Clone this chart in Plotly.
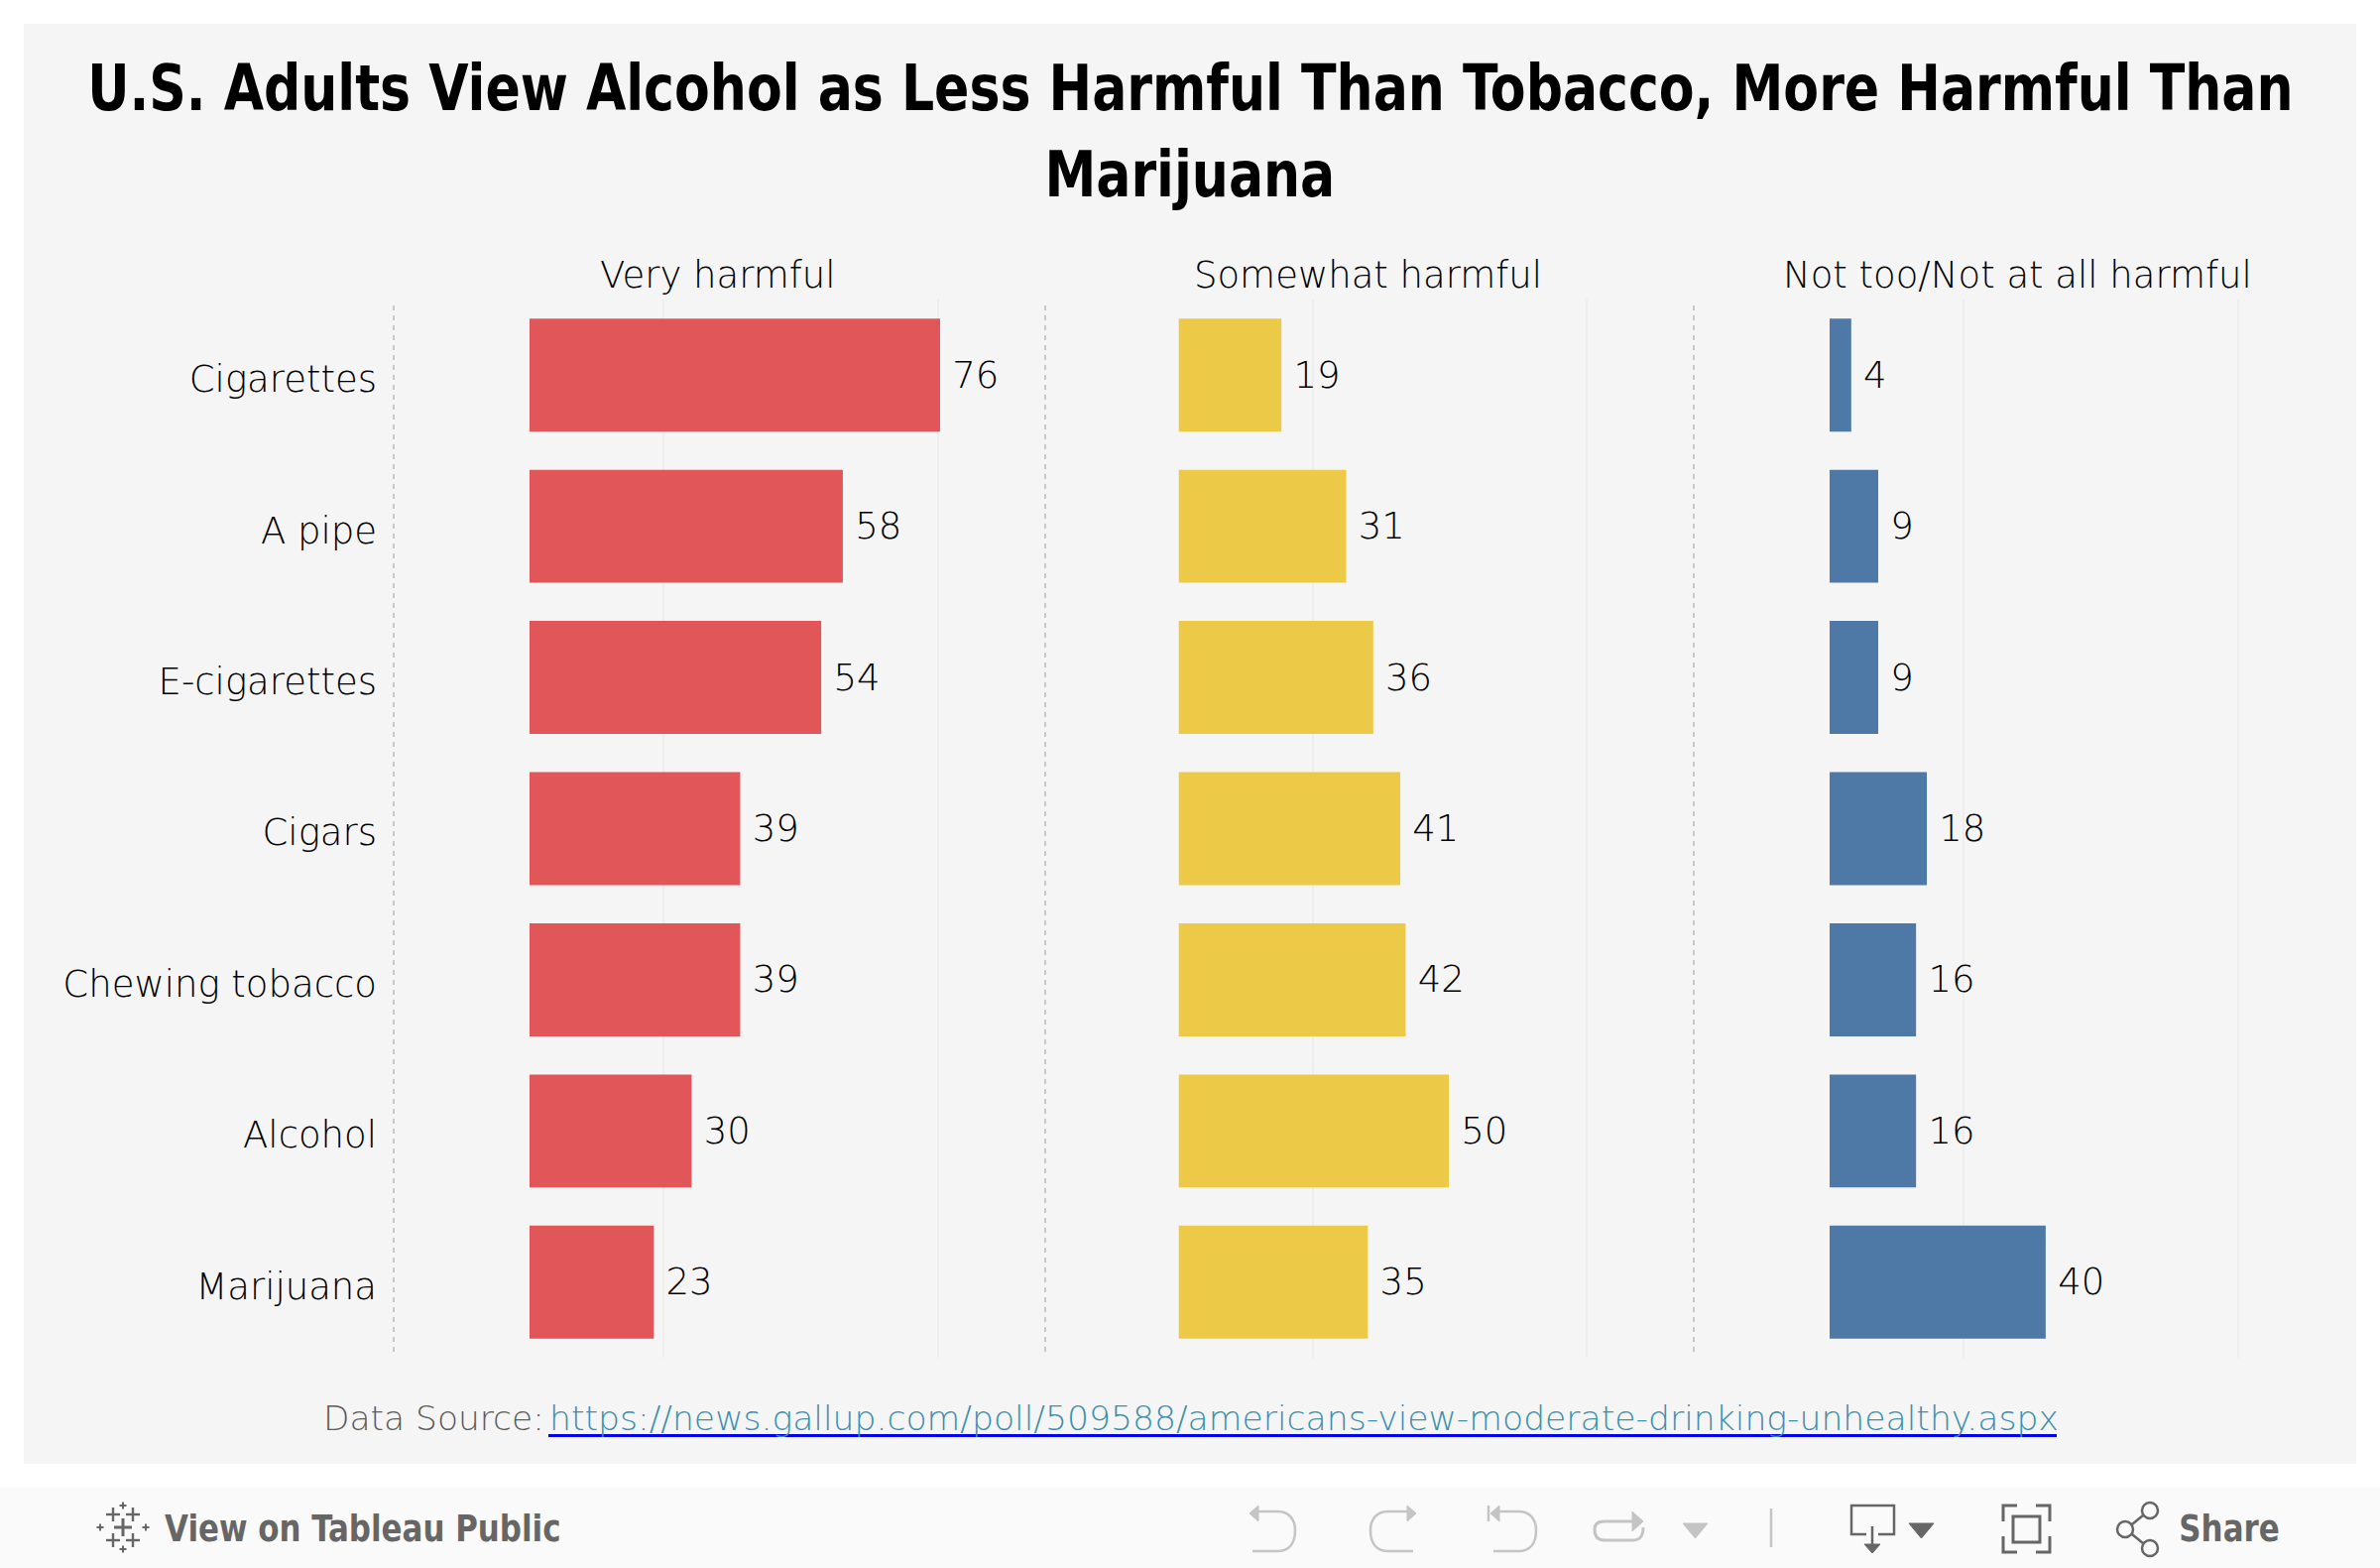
import plotly.graph_objects as go

categories = ["Cigarettes", "A pipe", "E-cigarettes", "Cigars", "Chewing tobacco", "Alcohol", "Marijuana"]
very_harmful = [76, 58, 54, 39, 39, 30, 23]
somewhat_harmful = [19, 31, 36, 41, 42, 50, 35]
not_harmful = [4, 9, 9, 18, 16, 16, 40]
panel_titles = ["Very harmful", "Somewhat harmful", "Not too/Not at all harmful"]
colors = ["#e15759", "#edc948", "#4e79a7"]
grid_vals = [24.8, 75.6]

W, H = 2400, 1581
FONT = "DejaVu Sans"
FONT_C = "DejaVu Sans Condensed"
LIGHT = 200
px = lambda x: x / W
py = lambda y: 1 - y / H

PANES = [(397, 1054, 534), (1054, 1708, 1188.7), (1708, 2362, 1845)]
SCALE = 5.447
TOP, BOT = 302, 1369

fig = go.Figure()
for i, (vals, col, (l, r, z)) in enumerate(zip([very_harmful, somewhat_harmful, not_harmful], colors, PANES)):
    n = "" if i == 0 else str(i + 1)
    fig.add_trace(go.Bar(
        y=categories, x=vals, orientation="h", width=0.7475,
        marker=dict(color=col, line=dict(width=0)),
        text=["\u2005" + str(v) for v in vals], textposition="outside",
        textfont=dict(family=FONT, size=37, color="#000000", weight=LIGHT), cliponaxis=False,
        hoverinfo="skip", showlegend=False, xaxis="x" + n, yaxis="y" + n))
    fig.update_layout(**{
        "xaxis" + n: dict(domain=[px(l), px(r)], range=[(l - z) / SCALE, (r - z) / SCALE],
                          tickvals=grid_vals, showticklabels=False, ticks="", zeroline=False,
                          showgrid=True, gridcolor="#eeeeee", gridwidth=2, showline=False, fixedrange=True),
        "yaxis" + n: dict(domain=[py(BOT), py(TOP)], range=[6.5, -0.5], type="category",
                          categoryorder="array", categoryarray=categories,
                          showticklabels=(i == 0), ticks="", showgrid=False, zeroline=False, showline=False,
                          ticklabelstandoff=16, ticklabelshift=-4,
                          tickfont=dict(family=FONT, size=37, color="#000000", weight=LIGHT),
                          fixedrange=True, automargin=False),
    })

shapes, annos = [], []

def rect(x0, y0, x1, y1, fill):
    shapes.append(dict(type="rect", xref="paper", yref="paper", x0=px(x0), x1=px(x1), y0=py(y0), y1=py(y1),
                       fillcolor=fill, line=dict(width=0), layer="below"))

def line(x0, y0, x1, y1, color, width=2, dash="solid", layer="above"):
    shapes.append(dict(type="line", xref="paper", yref="paper", x0=px(x0), x1=px(x1), y0=py(y0), y1=py(y1),
                       line=dict(color=color, width=width, dash=dash), layer=layer))

def path(pts, color, width=2.5, fill=None):
    d = ""
    for cmd, *c in pts:
        d += cmd + " ".join(f"{px(c[j]):.5f} {py(c[j+1]):.5f}" for j in range(0, len(c), 2)) + " "
    shapes.append(dict(type="path", xref="paper", yref="paper", path=d.strip(),
                       line=dict(color=color, width=width), fillcolor=fill or "rgba(0,0,0,0)", layer="above"))

def text(x, y, s, size, color="#000000", anchor="center", weight=LIGHT, family=FONT):
    annos.append(dict(xref="paper", yref="paper", x=px(x), y=py(y), text=s, showarrow=False, xanchor=anchor,
                      yanchor="middle", font=dict(family=family, size=size, color=color, weight=weight)))

rect(24, 24, 2376, 1476, "#f5f5f5")
rect(0, 1500, 2400, 1581, "#fafafa")

for x in (397, 1054, 1708):
    line(x, 308, x, 1365, "#c8c8c8", 2, "5px,5px", "below")

text(1200, 89, "U.S. Adults View Alcohol as Less Harmful Than Tobacco, More Harmful Than", 64, "#000000", weight=700, family=FONT_C)
text(1200, 176, "Marijuana", 64, "#000000", weight=700, family=FONT_C)
for t, cx in zip(panel_titles, (724, 1379, 2034)):
    text(cx, 278, t, 37)

# source line
line(553, 1447.5, 2074, 1447.5, "#0000ee", 3)
text(324, 1430, "Data Source:", 34.4, "#5c5c5c", "left")
annos.append(dict(xref="paper", yref="paper", x=px(552), y=py(1430), xanchor="left", yanchor="middle", showarrow=False,
                  text='<a href="https://news.gallup.com/poll/509588/americans-view-moderate-drinking-unhealthy.aspx" '
                       'style="color:#3d8fb0">https://news.gallup.com/poll/509588/americans-view-moderate-drinking-unhealthy.aspx</a>',
                  font=dict(family=FONT, size=34.6, color="#3d8fb0", weight=LIGHT)))

# toolbar
GR, LG = "#666666", "#c4c4c4"
def cross(cx, cy, a, t=1.5):
    line(cx - a, cy, cx + a, cy, GR, 2 * t)
    line(cx, cy - a, cx, cy + a, GR, 2 * t)
cross(124, 1540, 9, 1.5)
for dx, dy in ((-10, -13), (10, -13), (-10, 13), (10, 13)):
    cross(124 + dx, 1540 + dy, 7, 1.2)
for dx, dy in ((0, -22), (0, 22), (-23, 0), (23, 0)):
    cross(124 + dx, 1540 + dy, 3.5, 1)

text(366, 1541, "View on Tableau Public", 38, GR, "center", 700, FONT_C)
text(2248, 1541, "Share", 38, GR, "center", 700, FONT_C)

def curve_arrow(sign, x0):
    f = lambda d: x0 + sign * d
    path([("M", f(28), 1524), ("C", f(40), 1524, f(46), 1532, f(46), 1543), ("C", f(46), 1556, f(40), 1564, f(28), 1564),
          ("L", f(3), 1564)], LG)
    path([("M", f(0), 1526), ("L", f(9), 1518), ("L", f(9), 1534), ("Z",)], LG, 1, LG)
    line(f(9), 1524, f(28), 1524, LG, 2.5)

curve_arrow(1, 1260)
curve_arrow(-1, 1428)
curve_arrow(1, 1503)
line(1501, 1518, 1501, 1534, LG, 2.5)
path([("M", 1646, 1534), ("L", 1618, 1534), ("C", 1610, 1534, 1608, 1538, 1608, 1542), ("C", 1608, 1549, 1611, 1553, 1618, 1553),
      ("L", 1646, 1553), ("C", 1654, 1553, 1657, 1549, 1657, 1540)], LG, 3)
path([("M", 1657, 1534), ("L", 1646, 1524), ("L", 1646, 1544), ("Z",)], LG, 1, LG)
path([("M", 1697, 1536), ("L", 1722, 1536), ("L", 1709.5, 1551), ("Z",)], LG, 1, LG)
line(1786, 1521, 1786, 1560, LG, 2.5)

path([("M", 1882, 1547), ("L", 1867, 1547), ("L", 1867, 1518), ("L", 1910, 1518), ("L", 1910, 1547), ("L", 1894, 1547)], GR, 2.5)
line(1888, 1539, 1888, 1558, GR, 2.5)
path([("M", 1880, 1557), ("L", 1896, 1557), ("L", 1888, 1566), ("Z",)], GR, 1, GR)
path([("M", 1925, 1536), ("L", 1950, 1536), ("L", 1937.5, 1551), ("Z",)], GR, 1, GR)

for (ax, ay, bx, by, cx, cy) in ((2034, 1518, 2020, 1518, 2020, 1534), (2053, 1518, 2067, 1518, 2067, 1534),
                                 (2034, 1565, 2020, 1565, 2020, 1549), (2053, 1565, 2067, 1565, 2067, 1549)):
    path([("M", ax, ay), ("L", bx, by), ("L", cx, cy)], GR, 3)
path([("M", 2030, 1529), ("L", 2057, 1529), ("L", 2057, 1555), ("L", 2030, 1555), ("Z",)], GR, 3)

for cx, cy in ((2168, 1523), (2143, 1542), (2168, 1561)):
    shapes.append(dict(type="circle", xref="paper", yref="paper", x0=px(cx - 8), x1=px(cx + 8), y0=py(cy + 8), y1=py(cy - 8),
                       line=dict(color=GR, width=2.5), fillcolor="rgba(0,0,0,0)"))
line(2150, 1537, 2161, 1528, GR, 2.5)
line(2150, 1547, 2161, 1556, GR, 2.5)

fig.update_layout(width=W, height=H, autosize=False, margin=dict(l=0, r=0, t=0, b=0), paper_bgcolor="#ffffff",
                  plot_bgcolor="rgba(0,0,0,0)", shapes=shapes, annotations=annos,
                  font=dict(family=FONT), uniformtext=dict(mode=False))

# The page's default margin is removed; bold texts are narrowed to the reference's width.
POST = """
document.body.style.margin='0';
document.documentElement.style.overflow='hidden';
function narrow(){
  document.querySelectorAll('svg text').forEach(function(t){
    var w=parseInt(getComputedStyle(t).fontWeight,10);
    if(w>=600 && !t.hasAttribute('data-narrow')){
      var b=t.getBBox(), c=b.x+b.width/2;
      t.setAttribute('transform','translate('+c+',0) scale(0.905,1) translate('+(-c)+',0)');
      t.setAttribute('data-narrow','1');
    }
  });
}
narrow();
var n=0, iv=setInterval(function(){narrow(); if(++n>40) clearInterval(iv);},100);
"""
fig.write_html("out.html", config=dict(displayModeBar=False), post_script=POST)
